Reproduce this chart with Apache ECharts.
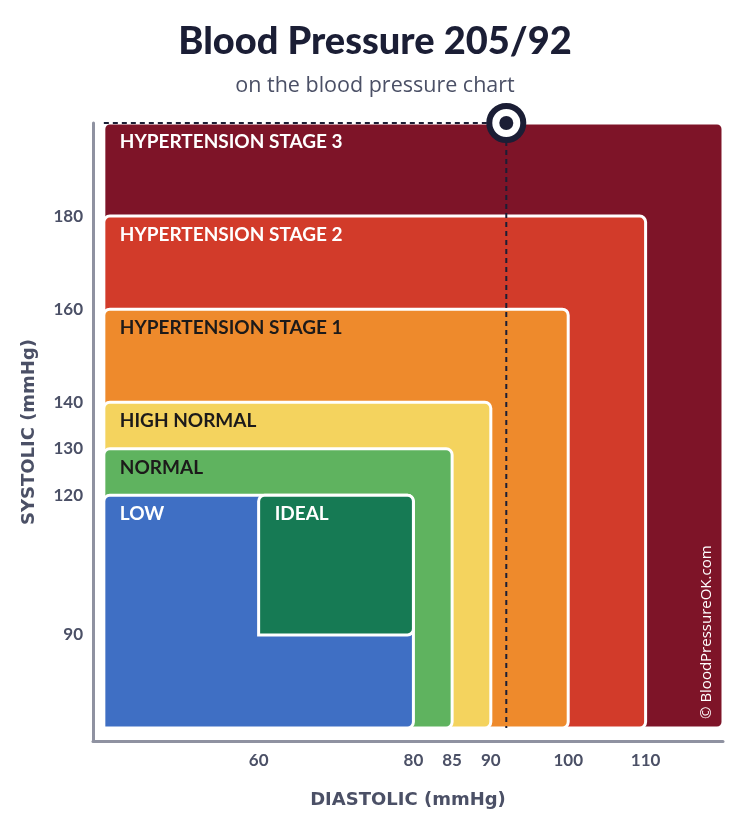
<!DOCTYPE html>
<html>
<head>
  <meta charset="UTF-8" />
  <title>Blood Pressure 205/92</title>
  <style type="text/css">
    * {
      margin: 0;
      padding: 0;
    }
    #main {
      width: 750px;
      height: 825px;
      background-color: #fff;
    }
  </style>
</head>
<body>
  <div id="main"></div>
</body>
<script src="https://cdn.jsdelivr.net/npm/echarts@6/dist/echarts.min.js"></script>
<script type="text/javascript">
  // 各区域: 名称 + 舒张压/收缩压范围
  const zoneNames = ['HYPERTENSION STAGE 3', 'HYPERTENSION STAGE 2', 'HYPERTENSION STAGE 1', 'HIGH NORMAL', 'NORMAL', 'LOW', 'IDEAL']
  const zoneDiaFrom = [40, 40, 40, 40, 40, 40, 60]
  const zoneDiaTo = [120, 110, 100, 90, 85, 80, 80]
  const zoneSysFrom = [70, 70, 70, 70, 70, 70, 90]
  const zoneSysTo = [200, 180, 160, 140, 130, 120, 120]
  const diaTicks = [60, 80, 85, 90, 100, 110]
  const sysTicks = [90, 120, 130, 140, 160, 180]
  const reading = [92, 205] // 舒张压, 收缩压

  const zoneColors = ['#7e1428', '#d23b2a', '#ee8a2c', '#f4d35e', '#5fb35f', '#3f6fc4', '#167a54']
  const zoneTextColors = ['#fff', '#fff', '#1c1a1a', '#1c1a1a', '#1c1a1a', '#fff', '#fff']
  const navy = '#1b1e35'
  const gray = '#4b5066'

  const diaMin = 38.6, diaMax = 120
  const sysMin = 67.2, sysMax = 200

  // 点的位置超出坐标轴时贴在最上方
  const px = reading[0]
  const py = Math.min(reading[1], sysMax)

  const zoneData = zoneNames.map((n, i) => [zoneDiaFrom[i], zoneSysFrom[i], zoneDiaTo[i], zoneSysTo[i], i])

  let myChart = echarts.init(document.getElementById('main'))

  let option = {
    animation: false,
    title: {
      text: 'Blood Pressure 205/92',
      subtext: 'on the blood pressure chart',
      left: 'center',
      top: 18,
      itemGap: 14,
      textStyle: { fontFamily: 'Lato', fontWeight: 900, fontSize: 38, color: navy },
      subtextStyle: { fontFamily: 'Open Sans', fontSize: 21.5, color: gray }
    },
    grid: { left: 93, right: 27, top: 123, bottom: 84 },
    xAxis: {
      type: 'value',
      min: diaMin,
      max: diaMax,
      name: 'DIASTOLIC (mmHg)',
      nameLocation: 'middle',
      nameGap: 50,
      nameTextStyle: { fontFamily: 'DejaVu Sans', fontWeight: 'bold', fontSize: 18, color: gray },
      axisLine: { lineStyle: { color: '#8f92a1', width: 3 } },
      axisTick: { show: false },
      splitLine: { show: false },
      axisLabel: {
        customValues: diaTicks,
        margin: 11,
        fontFamily: 'Lato',
        fontWeight: 'bold',
        fontSize: 17,
        color: gray
      }
    },
    yAxis: {
      type: 'value',
      min: sysMin,
      max: sysMax,
      name: 'SYSTOLIC (mmHg)',
      nameLocation: 'middle',
      nameGap: 55,
      nameTextStyle: { fontFamily: 'DejaVu Sans', fontWeight: 'bold', fontSize: 18, color: gray },
      axisLine: { lineStyle: { color: '#8f92a1', width: 3 } },
      axisTick: { show: false },
      splitLine: { show: false },
      axisLabel: {
        customValues: sysTicks,
        margin: 10,
        fontFamily: 'Lato',
        fontWeight: 'bold',
        fontSize: 17,
        color: gray
      }
    },
    graphic: [{
      type: 'text',
      x: 707,
      y: 719,
      rotation: Math.PI / 2,
      z: 100,
      style: {
        text: '© BloodPressureOK.com',
        fill: '#fff',
        font: '15px "Open Sans"',
        textAlign: 'left',
        textVerticalAlign: 'middle'
      }
    }],
    series: [{
      type: 'custom',
      data: zoneData,
      z: 1,
      renderItem: function (params, api) {
        let p0 = api.coord([api.value(0), api.value(1)])
        let p1 = api.coord([api.value(2), api.value(3)])
        let i = api.value(4)
        return {
          type: 'group',
          children: [{
            type: 'rect',
            shape: { x: p0[0], y: p1[1], width: p1[0] - p0[0], height: p0[1] - p1[1], r: [6, 6, 6, 0] },
            style: { fill: zoneColors[i], stroke: '#fff', lineWidth: 3 }
          }, {
            type: 'text',
            style: {
              x: p0[0] + 16,
              y: p1[1] + 19,
              text: zoneNames[i],
              fill: zoneTextColors[i],
              font: 'bold 19px Lato',
              textVerticalAlign: 'middle'
            }
          }]
        }
      }
    }, {
      type: 'line',
      data: [[zoneDiaFrom[0], py], [px, py]],
      symbol: 'none',
      z: 5,
      lineStyle: { color: navy, width: 2, type: [5, 4] }
    }, {
      type: 'line',
      data: [[px, py], [px, zoneSysFrom[0]]],
      symbol: 'none',
      z: 5,
      lineStyle: { color: navy, width: 2, type: [5, 4] }
    }, {
      type: 'scatter',
      data: [[px, py]],
      symbol: 'circle',
      symbolSize: 34,
      z: 10,
      itemStyle: { color: '#fff', borderColor: navy, borderWidth: 6, opacity: 1 }
    }, {
      type: 'scatter',
      data: [[px, py]],
      symbol: 'circle',
      symbolSize: 14,
      z: 11,
      itemStyle: { color: navy, opacity: 1 }
    }]
  }
  myChart.setOption(option)
</script>
</html>
